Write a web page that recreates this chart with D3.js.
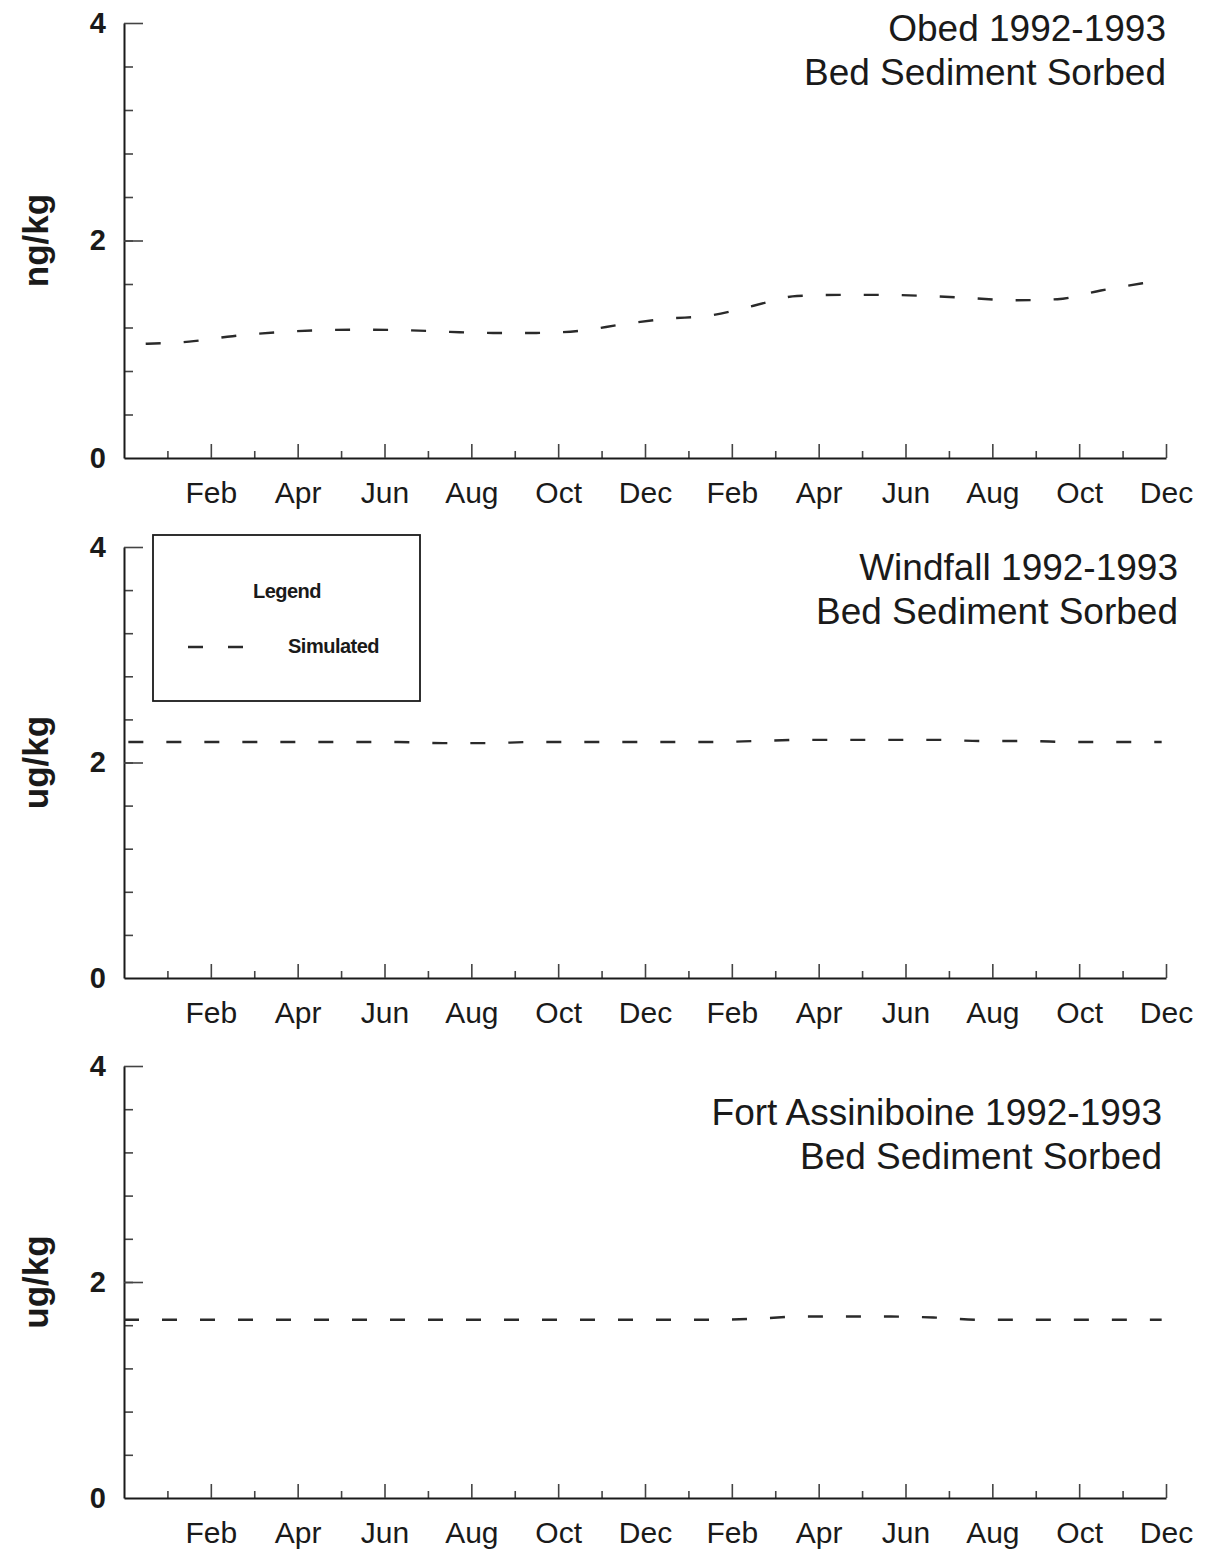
<!DOCTYPE html>
<html lang="en">
<head>
<meta charset="utf-8">
<title>Bed Sediment Sorbed 1992-1993</title>
<script src="https://cdn.jsdelivr.net/npm/d3@7"></script>
<style>
  body { margin: 0; background: #fff; }
  svg { font-family: "Liberation Sans", Arial, sans-serif; }
  .axis path.domain { stroke: #1a1a1a; stroke-width: 2; }
  .axis line { stroke: #444; stroke-width: 1.6; }
  .axis text { fill: #1a1a1a; }
  .xlab text { font-size: 30px; }
  .ylab text { font-size: 29px; font-weight: bold; }
  .title { font-size: 37px; fill: #1a1a1a; text-anchor: end; }
  .unit { font-size: 35px; font-weight: bold; fill: #1a1a1a; text-anchor: middle; }
  .sim { fill: none; stroke: #2a2a2a; stroke-width: 2.4; stroke-dasharray: 15,23; }
  .legend text { font-size: 20px; font-weight: bold; fill: #1a1a1a; letter-spacing: -0.5px; }
</style>
</head>
<body>
<script>
// months from Jan 1992 (0) to Dec 1993 (24); labels at the end of every second month
var monthLabels = ["Feb", "Apr", "Jun", "Aug", "Oct", "Dec", "Feb", "Apr", "Jun", "Aug", "Oct", "Dec"];
var yTicks = [0, 2, 4];

// simulated bed sediment sorbed concentration, one value per month
var obedValues = [1.05, 1.07, 1.12, 1.155, 1.175, 1.18, 1.175, 1.16, 1.15, 1.15, 1.17, 1.23,
                  1.28, 1.31, 1.40, 1.49, 1.50, 1.50, 1.49, 1.47, 1.45, 1.46, 1.54, 1.61];
var windfallValues = [2.19, 2.19, 2.19, 2.19, 2.19, 2.19, 2.19, 2.18, 2.18, 2.19, 2.19, 2.19,
                      2.19, 2.19, 2.20, 2.21, 2.21, 2.21, 2.21, 2.20, 2.20, 2.19, 2.19, 2.19];
var fortValues = [1.65, 1.65, 1.65, 1.65, 1.65, 1.65, 1.65, 1.65, 1.65, 1.65, 1.65, 1.65,
                  1.65, 1.65, 1.66, 1.68, 1.68, 1.68, 1.67, 1.65, 1.65, 1.65, 1.65, 1.65];
// first and last simulated month of each run
var obedSpan = [0.5, 23.5];
var windfallSpan = [0.1, 23.9];
var fortSpan = [0.0, 23.9];

var sites = ["Obed 1992-1993", "Windfall 1992-1993", "Fort Assiniboine 1992-1993"];
var subtitle = "Bed Sediment Sorbed";
var units = ["ng/kg", "ug/kg", "ug/kg"];

var W = 1211, H = 1552;
var left = 124, right = 1166;

var svg = d3.select("body").append("svg")
  .attr("width", W)
  .attr("height", H);

var panels = [
  { values: obedValues, span: obedSpan, top: 23, bottom: 458, titleX: 1166, titleY: 41, legend: false },
  { values: windfallValues, span: windfallSpan, top: 547, bottom: 978, titleX: 1178, titleY: 580, legend: true },
  { values: fortValues, span: fortSpan, top: 1066, bottom: 1498, titleX: 1162, titleY: 1125, legend: false }
];

var x = d3.scaleLinear().domain([0, 24]).range([left, right]);
var months = d3.range(1, 25);

panels.forEach(function (p, i) {
  var y = d3.scaleLinear().domain([0, 4]).range([p.bottom, p.top]);
  var g = svg.append("g");

  // minor y ticks every 0.4
  g.append("g")
    .attr("class", "axis")
    .attr("transform", "translate(" + left + ",0)")
    .call(d3.axisLeft(y).tickValues(d3.range(0.4, 4, 0.4)).tickSize(-9).tickSizeOuter(0).tickFormat(""))
    .select(".domain").remove();

  // major y axis
  g.append("g")
    .attr("class", "axis ylab")
    .attr("transform", "translate(" + left + ",0)")
    .call(d3.axisLeft(y).tickValues(yTicks).tickSize(-19).tickSizeOuter(0).tickPadding(18).tickFormat(d3.format("d")))
    .call(function (a) { a.selectAll(".tick").filter(function (d) { return d === 0; }).select("line").remove(); });

  // minor x ticks (odd months)
  g.append("g")
    .attr("class", "axis")
    .attr("transform", "translate(0," + p.bottom + ")")
    .call(d3.axisBottom(x).tickValues(months.filter(function (m) { return m % 2 === 1; })).tickSize(-7).tickSizeOuter(0).tickFormat(""))
    .select(".domain").remove();

  // major x axis with month labels
  g.append("g")
    .attr("class", "axis xlab")
    .attr("transform", "translate(0," + p.bottom + ")")
    .call(d3.axisBottom(x)
      .tickValues(months.filter(function (m) { return m % 2 === 0; }))
      .tickSize(-14).tickSizeOuter(0).tickPadding(24)
      .tickFormat(function (d) { return monthLabels[d / 2 - 1]; }));

  // unit label
  var cy = (p.top + p.bottom) / 2;
  g.append("text")
    .attr("class", "unit")
    .attr("transform", "translate(48," + cy + ") rotate(-90)")
    .text(units[i]);

  // titles
  g.append("text").attr("class", "title").attr("x", p.titleX).attr("y", p.titleY).text(sites[i]);
  g.append("text").attr("class", "title").attr("x", p.titleX).attr("y", p.titleY + 44).text(subtitle);

  // simulated series
  var step = (p.span[1] - p.span[0]) / (p.values.length - 1);
  var line = d3.line()
    .x(function (d, j) { return x(p.span[0] + j * step); })
    .y(function (d) { return y(d); })
    .curve(d3.curveMonotoneX);
  g.append("path")
    .datum(p.values)
    .attr("class", "sim")
    .attr("d", line);

  if (p.legend) {
    var lg = g.append("g").attr("class", "legend");
    lg.append("rect")
      .attr("x", 153).attr("y", 535).attr("width", 267).attr("height", 166)
      .attr("fill", "none").attr("stroke", "#1a1a1a").attr("stroke-width", 1.8);
    lg.append("text").attr("x", 287).attr("y", 598).attr("text-anchor", "middle").text("Legend");
    lg.append("line")
      .attr("class", "sim")
      .attr("x1", 188).attr("x2", 245).attr("y1", 647).attr("y2", 647)
      .style("stroke-dasharray", "15,25");
    lg.append("text").attr("x", 288).attr("y", 653).text("Simulated");
  }
});
</script>
</body>
</html>
